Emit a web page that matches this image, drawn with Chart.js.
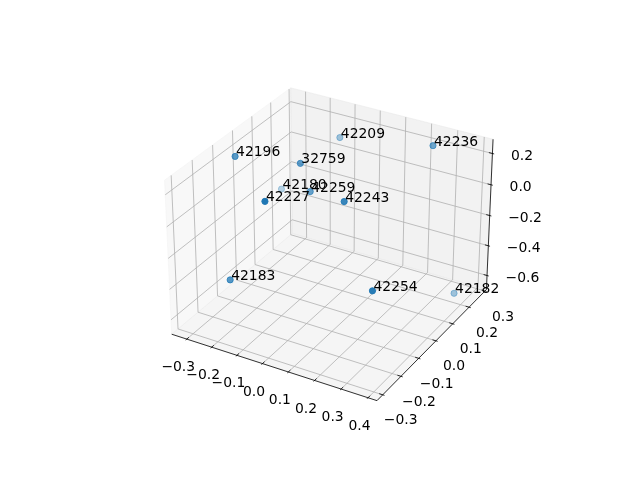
<!DOCTYPE html>
<html>
<head>
<meta charset="utf-8">
<script src="https://cdn.jsdelivr.net/npm/chart.js@4.4.1/dist/chart.umd.min.js"></script>
<style>
  html,body{margin:0;padding:0;background:#fff;}
  #wrap{width:640px;height:480px;}
</style>
</head>
<body>
<div id="wrap"><canvas id="c" width="640" height="480"></canvas></div>
<script>
// 3D scatter: one labelled point per id
const labels = ['42196','42209','42236','32759','42180','42259','42227','42243','42183','42254','42182'];
const xs = [-0.275,-0.111, 0.254,-0.087,-0.280,-0.050,-0.044, 0.132,-0.176, 0.314, 0.368];
const ys = [-0.097, 0.239, 0.235,-0.009, 0.145,-0.008,-0.247,-0.080,-0.260,-0.187, 0.209];
const zs = [ 0.253, 0.133, 0.241, 0.209,-0.191, 0.046, 0.222, 0.137,-0.322,-0.224,-0.645];

const xTicks = [-0.3,-0.2,-0.1,0.0,0.1,0.2,0.3,0.4];
const yTicks = [-0.3,-0.2,-0.1,0.0,0.1,0.2,0.3];
const zTicks = [-0.6,-0.4,-0.2,0.0,0.2];

// axis box (pane edges)
const xLim = [-0.361,0.433];
const yLim = [-0.331,0.309];
const zLim = [-0.696,0.290];

// view, roughly matplotlib's default (elev 30, azim -60, persp)
const ELEV = 30, AZIM = -60, DIST = 10;
const BOX = [1.1429,1.1429,0.8571];
const SCALE = 2085, CX = 332, CY = 237;

const el = ELEV*Math.PI/180, az = AZIM*Math.PI/180;
const W = [Math.cos(el)*Math.cos(az), Math.cos(el)*Math.sin(az), Math.sin(el)];
const un = Math.hypot(W[0],W[1]);
const U = [-W[1]/un, W[0]/un, 0];
const V = [W[1]*U[2]-W[2]*U[1], W[2]*U[0]-W[0]*U[2], W[0]*U[1]-W[1]*U[0]];

function project(x,y,z){
  const p = [
    ((x-xLim[0])/(xLim[1]-xLim[0])-0.5)*BOX[0],
    ((y-yLim[0])/(yLim[1]-yLim[0])-0.5)*BOX[1],
    ((z-zLim[0])/(zLim[1]-zLim[0])-0.5)*BOX[2]
  ];
  const dot=(a)=>a[0]*p[0]+a[1]*p[1]+a[2]*p[2];
  const d = dot(W), k = SCALE/(DIST-d);
  return {x: CX + k*dot(U), y: CY - k*dot(V), depth: d};
}

const proj = labels.map((_,i)=>project(xs[i],ys[i],zs[i]));
const dmax = Math.max(...proj.map(p=>p.depth)), dmin = Math.min(...proj.map(p=>p.depth));
const colors = proj.map(p=>{
  const a = 1 - 0.7*(dmax-p.depth)/(dmax-dmin);
  return 'rgba(31,119,180,'+a.toFixed(3)+')';
});

const FONT = '13.9px "DejaVu Sans", sans-serif';
const fmt = v => v.toFixed(1).replace('-','\u2212');

const box3d = {
  id:'box3d',
  beforeDatasetsDraw(chart){
    const ctx = chart.ctx, sx = chart.scales.x, sy = chart.scales.y;
    const P = (x,y,z)=>{ const q=project(x,y,z); return [sx.getPixelForValue(q.x), sy.getPixelForValue(q.y)]; };
    const [x0,x1]=xLim, [y0,y1]=yLim, [z0,z1]=zLim;
    const poly = (pts, fill)=>{
      ctx.beginPath(); ctx.moveTo(pts[0][0],pts[0][1]);
      pts.slice(1).forEach(p=>ctx.lineTo(p[0],p[1]));
      ctx.closePath(); ctx.fillStyle=fill; ctx.fill();
      ctx.strokeStyle=fill; ctx.lineWidth=1; ctx.stroke();
    };
    const line = (a,b)=>{ ctx.beginPath(); ctx.moveTo(a[0],a[1]); ctx.lineTo(b[0],b[1]); ctx.stroke(); };
    ctx.save();
    // panes
    poly([P(x0,y0,z0),P(x0,y1,z0),P(x0,y1,z1),P(x0,y0,z1)], 'rgba(242,242,242,0.5)');
    poly([P(x0,y1,z0),P(x1,y1,z0),P(x1,y1,z1),P(x0,y1,z1)], 'rgba(230,230,230,0.5)');
    poly([P(x0,y0,z0),P(x1,y0,z0),P(x1,y1,z0),P(x0,y1,z0)], 'rgba(236,236,236,0.5)');
    // grid
    ctx.strokeStyle='#b0b0b0'; ctx.lineWidth=0.8;
    xTicks.forEach(t=>{ line(P(t,y0,z0),P(t,y1,z0)); line(P(t,y1,z0),P(t,y1,z1)); });
    yTicks.forEach(t=>{ line(P(x0,t,z0),P(x1,t,z0)); line(P(x0,t,z0),P(x0,t,z1)); });
    zTicks.forEach(t=>{ line(P(x0,y0,t),P(x0,y1,t)); line(P(x0,y1,t),P(x1,y1,t)); });
    // axis lines
    ctx.strokeStyle='#000'; ctx.lineWidth=0.8;
    line(P(x0,y0,z0),P(x1,y0,z0));
    line(P(x1,y0,z0),P(x1,y1,z0));
    line(P(x1,y1,z0),P(x1,y1,z1));
    // ticks and labels
    const dx=(x1-x0)/48, dy=(y1-y0)/48;
    ctx.fillStyle='#000'; ctx.font=FONT;
    ctx.textAlign='center'; ctx.textBaseline='middle';
    xTicks.forEach(t=>{
      line(P(t,y0+dy*0.8,z0),P(t,y0-dy*0.4,z0));
      const p=P(t,y0,z0); ctx.fillText(fmt(t), p[0]-8.5, p[1]+28.5);
    });
    yTicks.forEach(t=>{
      line(P(x1-dx*0.8,t,z0),P(x1+dx*0.4,t,z0));
      const p=P(x1,t,z0); ctx.fillText(fmt(t), p[0]+18, p[1]+26);
    });
    ctx.textAlign='left';
    zTicks.forEach(t=>{
      line(P(x1-dx*0.8,y1,t),P(x1+dx*0.4,y1,t));
      const p=P(x1,y1,t); ctx.fillText(fmt(t), p[0]+18.5, p[1]+3);
    });
    ctx.restore();
  },
  afterDatasetsDraw(chart){
    const ctx = chart.ctx, meta = chart.getDatasetMeta(0);
    ctx.save();
    ctx.fillStyle='#000'; ctx.font=FONT; ctx.textAlign='left'; ctx.textBaseline='alphabetic';
    meta.data.forEach((pt,i)=>ctx.fillText(labels[i], pt.x+1, pt.y));
    ctx.restore();
  }
};

new Chart(document.getElementById('c'), {
  type:'scatter',
  data:{ datasets:[{
    data: proj.map(p=>({x:p.x, y:p.y})),
    backgroundColor: colors,
    borderColor: colors,
    borderWidth: 1,
    pointRadius: 3.1,
    pointHoverRadius: 3.1
  }]},
  options:{
    responsive:false, animation:false, devicePixelRatio:1, events:[],
    layout:{padding:0},
    plugins:{legend:{display:false}, tooltip:{enabled:false}},
    scales:{
      x:{type:'linear', min:0, max:640, display:false},
      y:{type:'linear', min:0, max:480, reverse:true, display:false}
    }
  },
  plugins:[box3d]
});
</script>
</body>
</html>
